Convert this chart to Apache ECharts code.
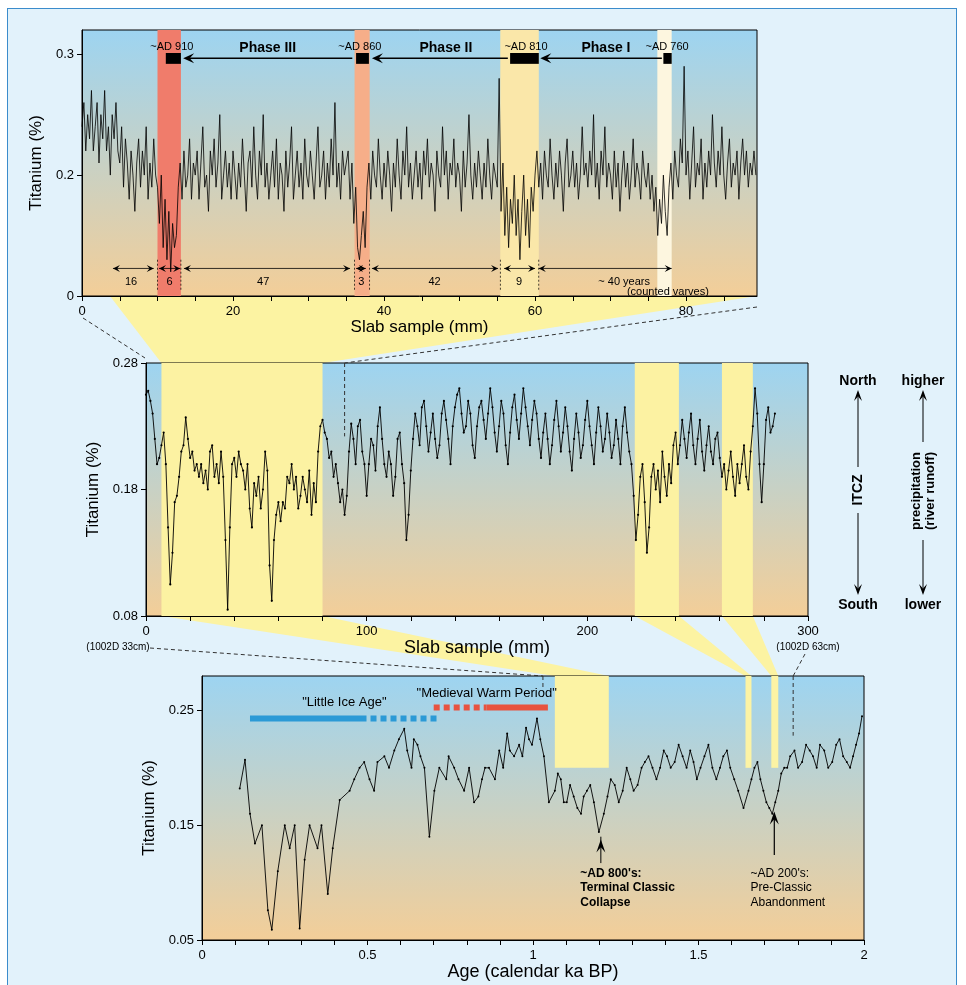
<!DOCTYPE html>
<html>
<head>
<meta charset="utf-8">
<script src="https://cdn.jsdelivr.net/npm/echarts@6/dist/echarts.min.js"></script>
<style>
  html, body { margin: 0; padding: 0; background: #fff; }
  #frame { position: absolute; left: 7px; top: 8px; width: 950px; height: 990px; background: #e2f2fb; border: 1px solid #3b8ccc; box-sizing: border-box; }
  #chart { position: absolute; left: 0; top: 0; width: 966px; height: 985px; }
</style>
</head>
<body>
<div id="frame"></div>
<div id="chart"></div>
<script>
// ---- top panel: slab sample 0-90 mm, every 0.25 mm
var topStep = 0.25;
var topTi = [
  0.24,0.26,0.22,0.25,0.23,0.27,0.22,0.24,0.26,0.21,
  0.25,0.23,0.27,0.22,0.24,0.2,0.25,0.23,0.26,0.22,
  0.21,0.24,0.19,0.23,0.21,0.18,0.22,0.2,0.17,0.21,
  0.23,0.19,0.22,0.2,0.24,0.18,0.21,0.19,0.23,0.2,
  0.19,0.16,0.2,0.14,0.18,0.13,0.17,0.12,0.16,0.14,
  0.15,0.19,0.21,0.18,0.22,0.19,0.2,0.23,0.18,0.21,
  0.2,0.22,0.18,0.21,0.24,0.19,0.2,0.17,0.22,0.2,
  0.23,0.19,0.21,0.25,0.18,0.2,0.22,0.19,0.21,0.18,
  0.22,0.2,0.18,0.21,0.19,0.23,0.2,0.17,0.21,0.22,
  0.19,0.24,0.2,0.18,0.22,0.2,0.25,0.19,0.21,0.18,
  0.2,0.22,0.19,0.23,0.18,0.21,0.2,0.17,0.22,0.19,
  0.21,0.24,0.18,0.2,0.22,0.19,0.21,0.18,0.23,0.2,
  0.19,0.22,0.2,0.18,0.21,0.24,0.19,0.2,0.22,0.18,
  0.21,0.19,0.23,0.2,0.26,0.19,0.21,0.18,0.22,0.2,
  0.2,0.22,0.18,0.21,0.16,0.19,0.14,0.13,0.15,0.17,
  0.14,0.19,0.21,0.18,0.22,0.2,0.19,0.23,0.2,0.18,
  0.21,0.19,0.22,0.2,0.17,0.21,0.19,0.23,0.2,0.18,
  0.22,0.2,0.24,0.19,0.21,0.18,0.2,0.22,0.19,0.21,
  0.18,0.22,0.2,0.23,0.19,0.21,0.2,0.17,0.22,0.2,
  0.19,0.24,0.2,0.22,0.18,0.21,0.2,0.23,0.19,0.21,
  0.2,0.17,0.22,0.19,0.21,0.25,0.2,0.18,0.21,0.19,
  0.22,0.2,0.18,0.21,0.19,0.23,0.2,0.18,0.21,0.2,
  0.19,0.28,0.17,0.21,0.15,0.19,0.14,0.18,0.16,0.2,
  0.15,0.18,0.13,0.17,0.2,0.15,0.18,0.14,0.19,0.17,
  0.2,0.22,0.19,0.21,0.18,0.22,0.2,0.19,0.23,0.2,
  0.18,0.21,0.19,0.22,0.2,0.17,0.21,0.23,0.19,0.2,
  0.22,0.19,0.21,0.18,0.2,0.24,0.2,0.21,0.19,0.22,
  0.2,0.25,0.19,0.21,0.18,0.22,0.2,0.24,0.19,0.21,
  0.2,0.18,0.22,0.19,0.21,0.17,0.2,0.22,0.19,0.21,
  0.18,0.2,0.23,0.19,0.21,0.2,0.18,0.22,0.2,0.19,
  0.21,0.18,0.2,0.17,0.19,0.15,0.18,0.16,0.2,0.17,
  0.15,0.19,0.21,0.18,0.22,0.2,0.19,0.23,0.21,0.29,
  0.2,0.22,0.18,0.21,0.24,0.19,0.21,0.2,0.23,0.18,
  0.21,0.19,0.22,0.2,0.25,0.21,0.19,0.22,0.2,0.24,
  0.2,0.18,0.21,0.23,0.19,0.21,0.2,0.22,0.18,0.21,
  0.23,0.2,0.22,0.19,0.21,0.2,0.22,0.2
];
var topYTickVals = [0.1, 0.2, 0.3];
var topYTickText = ['0', '0.2', '0.3'];
var topXLabels = [0, 20, 40, 60, 80];
var topBands = [[10, 13.1, '#f07c6b'], [36.1, 38.1, '#f6ae89'], [55.4, 60.5, '#fae7a9'], [76.2, 78.1, '#fdf6df']];

// ---- middle panel: slab sample 0-300 mm, every 1 mm
var midStep = 1;
var midTi = [
  0.255,0.258,0.25,0.24,0.22,0.2,0.205,0.215,0.225,0.2,
  0.15,0.105,0.13,0.17,0.175,0.19,0.21,0.215,0.237,0.22,
  0.205,0.21,0.195,0.2,0.19,0.2,0.185,0.195,0.18,0.21,
  0.215,0.19,0.2,0.185,0.21,0.19,0.14,0.085,0.15,0.2,
  0.205,0.19,0.21,0.2,0.195,0.18,0.2,0.165,0.15,0.185,
  0.175,0.19,0.165,0.18,0.21,0.195,0.12,0.092,0.14,0.16,
  0.17,0.155,0.17,0.165,0.19,0.185,0.2,0.18,0.19,0.165,
  0.175,0.19,0.18,0.17,0.195,0.16,0.185,0.17,0.21,0.23,
  0.235,0.225,0.22,0.205,0.21,0.19,0.2,0.185,0.17,0.18,
  0.16,0.175,0.21,0.232,0.22,0.2,0.23,0.235,0.21,0.2,
  0.175,0.2,0.22,0.215,0.195,0.23,0.245,0.22,0.2,0.19,
  0.21,0.2,0.175,0.19,0.22,0.225,0.2,0.185,0.14,0.16,
  0.195,0.22,0.24,0.23,0.215,0.245,0.25,0.23,0.21,0.225,
  0.24,0.22,0.205,0.215,0.24,0.25,0.235,0.22,0.2,0.23,
  0.245,0.255,0.26,0.24,0.225,0.23,0.25,0.24,0.215,0.205,
  0.23,0.245,0.25,0.235,0.22,0.24,0.26,0.245,0.225,0.21,
  0.23,0.25,0.24,0.215,0.2,0.225,0.245,0.255,0.235,0.22,
  0.24,0.26,0.245,0.23,0.215,0.235,0.25,0.24,0.22,0.205,
  0.225,0.24,0.22,0.2,0.215,0.235,0.25,0.23,0.21,0.225,
  0.245,0.23,0.21,0.195,0.22,0.24,0.225,0.205,0.215,0.235,
  0.25,0.23,0.215,0.2,0.225,0.245,0.23,0.21,0.22,0.24,
  0.225,0.205,0.215,0.235,0.22,0.2,0.23,0.245,0.225,0.21,
  0.2,0.175,0.14,0.16,0.19,0.2,0.17,0.13,0.15,0.19,
  0.2,0.18,0.195,0.17,0.21,0.19,0.175,0.2,0.185,0.215,
  0.225,0.2,0.215,0.235,0.22,0.205,0.225,0.24,0.215,0.2,
  0.22,0.235,0.21,0.195,0.215,0.23,0.21,0.2,0.22,0.225,
  0.205,0.19,0.2,0.18,0.195,0.21,0.19,0.175,0.2,0.185,
  0.2,0.215,0.19,0.18,0.21,0.23,0.26,0.24,0.2,0.17,
  0.2,0.235,0.245,0.225,0.23,0.24
];
var midYTicks = [0.08, 0.18, 0.28];
var midXLabels = [0, 100, 200, 300];
var midBands = [[7, 80], [221.5, 241.5], [261, 275]];

// ---- bottom panel: age (calendar ka BP)
var botAge = [
  0.114,0.13,0.145,0.16,0.181,0.199,0.211,0.229,0.25,0.265,
  0.28,0.295,0.31,0.325,0.349,0.361,0.38,0.395,0.416,0.446,
  0.46,0.476,0.49,0.506,0.52,0.53,0.551,0.565,0.581,0.595,
  0.611,0.62,0.633,0.64,0.651,0.66,0.672,0.687,0.702,0.717,
  0.738,0.745,0.762,0.775,0.792,0.807,0.822,0.835,0.846,0.855,
  0.867,0.885,0.898,0.91,0.922,0.93,0.943,0.958,0.968,0.979,
  0.988,0.997,1.012,1.022,1.033,1.048,1.066,1.075,1.084,1.093,
  1.102,1.112,1.123,1.134,1.145,1.153,1.163,1.173,1.184,1.199,
  1.214,1.225,1.235,1.247,1.259,1.271,1.283,1.294,1.304,1.316,
  1.328,1.338,1.349,1.361,1.373,1.384,1.395,1.405,1.416,1.428,
  1.44,1.452,1.464,1.475,1.485,1.495,1.506,1.518,1.53,1.542,
  1.554,1.565,1.575,1.586,1.596,1.608,1.62,1.636,1.651,1.66,
  1.669,1.678,1.687,1.696,1.705,1.714,1.723,1.732,1.741,1.75,
  1.759,1.768,1.777,1.79,1.801,1.813,1.825,1.836,1.846,1.857,
  1.867,1.88,1.892,1.904,1.916,1.926,1.937,1.948,1.958,1.967,
  1.976,1.985,1.994
];
var botTi = [
  0.182,0.207,0.16,0.134,0.15,0.076,0.059,0.11,0.15,0.13,
  0.15,0.06,0.12,0.15,0.13,0.15,0.09,0.13,0.172,0.18,
  0.19,0.2,0.205,0.19,0.18,0.205,0.21,0.2,0.215,0.225,
  0.234,0.215,0.2,0.225,0.22,0.21,0.2,0.14,0.18,0.2,
  0.19,0.21,0.2,0.19,0.18,0.2,0.17,0.175,0.19,0.2,
  0.2,0.19,0.215,0.2,0.23,0.215,0.21,0.22,0.21,0.235,
  0.225,0.22,0.243,0.225,0.21,0.17,0.18,0.195,0.19,0.17,
  0.17,0.185,0.175,0.165,0.16,0.175,0.18,0.185,0.17,0.144,
  0.16,0.175,0.19,0.185,0.17,0.18,0.2,0.19,0.18,0.185,
  0.2,0.205,0.21,0.2,0.19,0.2,0.215,0.21,0.2,0.205,
  0.22,0.21,0.2,0.215,0.205,0.19,0.2,0.21,0.22,0.2,
  0.19,0.2,0.21,0.215,0.2,0.19,0.18,0.165,0.18,0.19,
  0.2,0.205,0.19,0.18,0.17,0.165,0.16,0.17,0.18,0.195,
  0.2,0.2,0.21,0.215,0.2,0.205,0.22,0.215,0.21,0.2,
  0.22,0.215,0.2,0.205,0.22,0.225,0.21,0.205,0.2,0.21,
  0.22,0.23,0.245
];
var botYTicks = [0.05, 0.15, 0.25];
var botXLabels = [0, 0.5, 1, 1.5, 2];
var botBands = [[1.066, 1.229], [1.642, 1.66], [1.72, 1.741]];

var FONT = "'Liberation Sans', Arial, sans-serif";
var plotBg = { type: 'linear', x: 0, y: 0, x2: 0, y2: 1,
  colorStops: [{ offset: 0, color: '#9dd4f1' }, { offset: 1, color: '#f3ce98' }] };

function range(a, b, s) { var r = []; for (var v = a; v <= b + 1e-9; v += s) r.push(+v.toFixed(4)); return r; }

function xAx(gi, min, max, labels, ticks, name, gap, nameSize) {
  return {
    type: 'value', gridIndex: gi, min: min, max: max,
    name: name, nameLocation: 'middle', nameGap: gap,
    nameTextStyle: { fontFamily: FONT, fontSize: nameSize, color: '#000' },
    axisLine: { show: true, onZero: false, lineStyle: { color: '#000', width: 1 } },
    axisTick: { show: true, length: 5, customValues: ticks, lineStyle: { color: '#000' } },
    axisLabel: { customValues: labels, margin: 9, fontFamily: FONT, fontSize: 13, color: '#000' },
    splitLine: { show: false }
  };
}
function yAx(gi, min, max, ticks, fmt, gap) {
  return {
    type: 'value', gridIndex: gi, min: min, max: max,
    name: 'Titanium (%)', nameLocation: 'middle', nameGap: gap,
    nameTextStyle: { fontFamily: FONT, fontSize: 17, color: '#000' },
    axisLine: { show: true, onZero: false, lineStyle: { color: '#000', width: 1 } },
    axisTick: { show: true, length: 5, customValues: ticks, lineStyle: { color: '#000' } },
    axisLabel: { customValues: ticks, margin: 8, fontFamily: FONT, fontSize: 13, color: '#000', formatter: fmt },
    splitLine: { show: false }
  };
}

var chart = echarts.init(document.getElementById('chart'), null, { renderer: 'canvas' });

chart.setOption({
  animation: false,
  grid: [
    { left: 82, top: 30, width: 675, height: 266, show: true, backgroundColor: plotBg, borderColor: '#000', borderWidth: 1 },
    { left: 146, top: 363, width: 662, height: 253, show: true, backgroundColor: plotBg, borderColor: '#000', borderWidth: 1 },
    { left: 202, top: 676, width: 662, height: 264, show: true, backgroundColor: plotBg, borderColor: '#000', borderWidth: 1 }
  ],
  xAxis: [
    xAx(0, 0, 89.4, topXLabels, range(0, 85, 5), 'Slab sample (mm)', 21, 17),
    xAx(1, 0, 300, midXLabels, range(0, 300, 20), 'Slab sample (mm)', 17, 18),
    xAx(2, 0, 2, botXLabels, range(0, 2, 0.1), 'Age (calendar ka BP)', 22, 18)
  ],
  yAxis: [
    yAx(0, 0.1, 0.32, topYTickVals, function (v) { var i = topYTickVals.indexOf(v); return i >= 0 ? topYTickText[i] : v; }, 36),
    yAx(1, 0.08, 0.28, midYTicks, function (v) { return v.toFixed(2); }, 36),
    yAx(2, 0.05, 0.28, botYTicks, function (v) { return v.toFixed(2); }, 36)
  ],
  series: [
    {
      type: 'line', xAxisIndex: 0, yAxisIndex: 0, showSymbol: false, z: 3,
      lineStyle: { color: '#000', width: 0.8 },
      data: topTi.map(function (v, i) { return [i * topStep, v]; }),
      markArea: { silent: true, data: topBands.map(function (b) {
        return [{ xAxis: b[0], itemStyle: { color: b[2], opacity: 1 } }, { xAxis: b[1] }];
      }) }
    },
    {
      type: 'line', xAxisIndex: 1, yAxisIndex: 1, showSymbol: true, symbol: 'circle', symbolSize: 2.2, z: 3,
      itemStyle: { color: '#000' }, lineStyle: { color: '#000', width: 0.9 },
      data: midTi.map(function (v, i) { return [i * midStep, v]; }),
      markArea: { silent: true, data: midBands.map(function (b) {
        return [{ xAxis: b[0], itemStyle: { color: '#fcf2a2', opacity: 1 } }, { xAxis: b[1] }];
      }) }
    },
    {
      type: 'line', xAxisIndex: 2, yAxisIndex: 2, showSymbol: true, symbol: 'circle', symbolSize: 2, z: 3,
      itemStyle: { color: '#000' }, lineStyle: { color: '#000', width: 0.9 },
      data: botAge.map(function (a, i) { return [a, botTi[i]]; }),
      markArea: { silent: true, data: botBands.map(function (b) {
        return [{ xAxis: b[0], yAxis: 0.2, itemStyle: { color: '#fcf3a4', opacity: 1 } }, { xAxis: b[1], yAxis: 0.28 }];
      }) }
    }
  ]
});

// ---- annotations, placed through the axes
function P(g, x, y) { return chart.convertToPixel({ gridIndex: g }, [x, y]); }
function add(p, d) { return [p[0] + d[0], p[1] + d[1]]; }
var G = [];
function L(a, b, st, z) {
  G.push({ type: 'line', z: z == null ? 10 : z, shape: { x1: a[0], y1: a[1], x2: b[0], y2: b[1] },
    style: Object.assign({ stroke: '#000', lineWidth: 1 }, st || {}) });
}
function PG(pts, fill, z) { G.push({ type: 'polygon', z: z == null ? 10 : z, shape: { points: pts }, style: { fill: fill } }); }
function R(a, b) { G.push({ type: 'rect', z: 10, shape: { x: a[0], y: a[1], width: b[0] - a[0], height: b[1] - a[1] }, style: { fill: '#000' } }); }
function T(str, p, font, align, rot) {
  G.push({ type: 'text', z: 11, x: p[0], y: p[1], rotation: rot || 0,
    style: { text: str, x: 0, y: 0, fill: '#000', font: font, align: align || 'center', verticalAlign: 'middle' } });
}
function head(tip, dx, dy, len, w) {
  var n = Math.sqrt(dx * dx + dy * dy); dx /= n; dy /= n;
  var bx = tip[0] - dx * len, by = tip[1] - dy * len;
  PG([tip, [bx - dy * w, by + dx * w], [tip[0] - dx * len * 0.6, tip[1] - dy * len * 0.6], [bx + dy * w, by - dx * w]], '#000');
}
var dash = { stroke: '#333', lineWidth: 1, lineDash: [4, 3] };
var F11 = '11px ' + FONT, F12 = '12px ' + FONT;

// yellow connectors between panels
PG([P(0, 3.7, 0.1), P(0, 89.4, 0.1), P(1, 80, 0.28), P(1, 7, 0.28)], '#fcf3a2', -1);
midBands.forEach(function (b, i) {
  var c = botBands[i];
  PG([P(1, b[0], 0.08), P(1, b[1], 0.08), P(2, c[1], 0.28), P(2, c[0], 0.28)], '#fcf3a2', -1);
});

// dashed tie lines
L(add(P(0, 0, 0.1), [1, 22]), add(P(1, 0, 0.28), [-1, -5]), dash);
L(add(P(0, 89.4, 0.1), [0, 11]), P(1, 90, 0.28), dash);
L(P(1, 90, 0.28), P(1, 90, 0.222), dash);
L(add(P(1, 0, 0.08), [4, 32]), P(2, 1.03, 0.28), dash);
L(P(2, 1.03, 0.28), P(2, 1.03, 0.268), dash);
L(add(P(1, 300, 0.08), [-3, 38]), P(2, 1.786, 0.28), dash);
L(P(2, 1.786, 0.28), P(2, 1.786, 0.228), dash);
T('(1002D 33cm)', add(P(1, 0, 0.08), [-28, 31]), '10px ' + FONT);
T('(1002D 63cm)', add(P(1, 300, 0.08), [0, 31]), '10px ' + FONT);

// top: phase bars, arrows, labels
var adBars = [[11.1, 13.1], [36.3, 38.0], [56.7, 60.5], [77.0, 78.1]];
adBars.forEach(function (b) { R(P(0, b[0], 0.301), P(0, b[1], 0.292)); });
[['~AD 910', 11.9], ['~AD 860', 36.8], ['~AD 810', 58.8], ['~AD 760', 77.5]].forEach(function (a) {
  T(a[0], P(0, a[1], 0.306), F11);
});
[[35.8, 13.4, 'Phase III', 24.6], [56.4, 38.4, 'Phase II', 48.2], [76.8, 60.7, 'Phase I', 69.4]].forEach(function (a) {
  var p1 = P(0, a[0], 0.2966), p2 = P(0, a[1], 0.2966);
  L(p1, add(p2, [6, 0]), { lineWidth: 1.6 });
  head(p2, -1, 0, 11, 5);
  T(a[2], P(0, a[3], 0.305), 'bold 14px ' + FONT);
});
// counted intervals
var spans = [[4.1, 9.5, '16', 6.5], [10.2, 13.0, '6', 11.6], [13.5, 35.5, '47', 24.0], [36.3, 37.6, '3', 37.0],
             [38.4, 55.1, '42', 46.7], [55.9, 60.0, '9', 57.9], [60.5, 78.1, '~ 40 years', 71.8]];
spans.forEach(function (s) {
  var a = P(0, s[0], 0.1228), b = P(0, s[1], 0.1228);
  L(a, b, { lineWidth: 0.8 });
  head(a, -1, 0, 7, 3.5);
  head(b, 1, 0, 7, 3.5);
  T(s[2], P(0, s[3], 0.112), F11);
});
T('(counted varves)', P(0, 77.6, 0.1035), F11);
[10.0, 13.1, 36.1, 38.1, 55.4, 60.5].forEach(function (x) {
  L(P(0, x, 0.13), P(0, x, 0.104), { lineWidth: 0.7, lineDash: [2, 2] });
});

// bottom: climate periods
var lia = P(2, 0.145, 0.243), lia2 = P(2, 0.497, 0.243), lia3 = P(2, 0.71, 0.243);
L(lia, lia2, { stroke: '#2b9ad6', lineWidth: 6 });
L(add(lia2, [4, 0]), lia3, { stroke: '#2b9ad6', lineWidth: 6, lineDash: [6, 4] });
var mwp = P(2, 0.70, 0.2526), mwp2 = P(2, 0.86, 0.2526), mwp3 = P(2, 1.045, 0.2526);
L(mwp, mwp2, { stroke: '#e8533f', lineWidth: 6, lineDash: [6, 4] });
L(mwp2, mwp3, { stroke: '#e8533f', lineWidth: 6 });
T('"Little Ice Age"', P(2, 0.43, 0.257), '13px ' + FONT);
T('"Medieval Warm Period"', P(2, 0.86, 0.265), '13px ' + FONT);

// bottom: events
L(P(2, 1.205, 0.117), P(2, 1.205, 0.14), { lineWidth: 1 });
head(P(2, 1.205, 0.1375), 0, -1, 13, 4.5);
L(P(2, 1.729, 0.124), P(2, 1.729, 0.16), { lineWidth: 1.2 });
head(P(2, 1.729, 0.162), 0, -1, 13, 4.5);
[['~AD 800\'s:', 0.108], ['Terminal Classic', 0.0952], ['Collapse', 0.0822]].forEach(function (t) {
  T(t[0], P(2, 1.143, t[1]), 'bold 12px ' + FONT, 'left');
});
[['~AD 200\'s:', 0.108], ['Pre-Classic', 0.0952], ['Abandonment', 0.0822]].forEach(function (t) {
  T(t[0], P(2, 1.657, t[1]), F12, 'left');
});

// right side: ITCZ and precipitation
var BF = 'bold 14px ' + FONT;
T('North', [858, 381], BF); T('South', [858, 605], BF);
L([858, 397], [858, 467]); L([858, 513], [858, 588]);
head([858, 390], 0, -1, 11, 4); head([858, 595], 0, 1, 11, 4);
T('ITCZ', [858, 490], BF, 'center', Math.PI / 2);
T('higher', [923, 381], BF); T('lower', [923, 605], BF);
L([923, 397], [923, 442]); L([923, 540], [923, 588]);
head([923, 390], 0, -1, 11, 4); head([923, 595], 0, 1, 11, 4);
T('precipitation', [916, 491], 'bold 13px ' + FONT, 'center', Math.PI / 2);
T('(river runoff)', [930, 491], 'bold 13px ' + FONT, 'center', Math.PI / 2);

chart.setOption({ graphic: { elements: G } });
</script>
</body>
</html>
